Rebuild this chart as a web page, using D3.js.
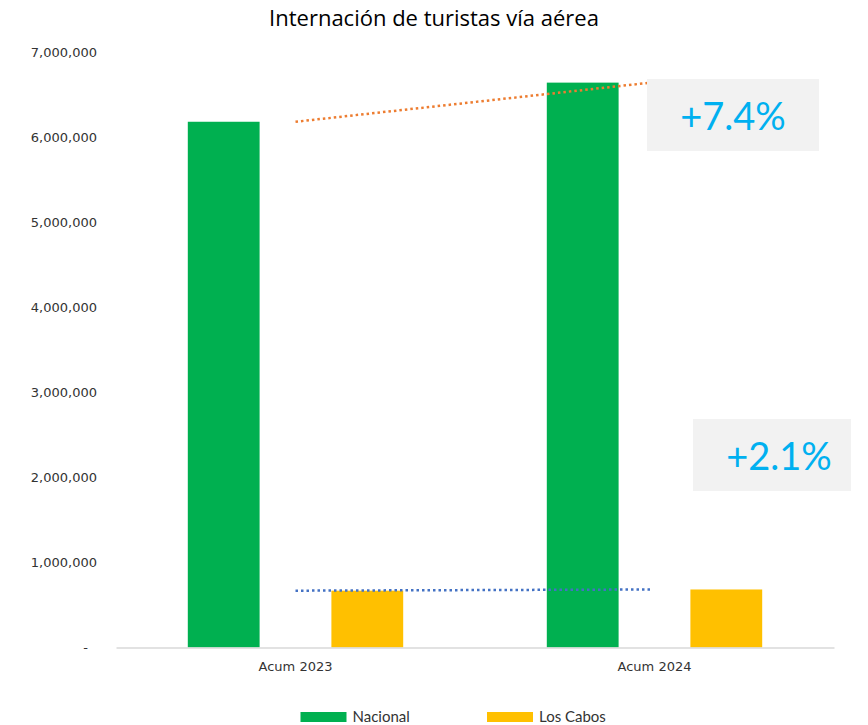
<!DOCTYPE html>
<html lang="es">
<head>
    <meta charset="UTF-8">
    <title>Internación de turistas vía aérea</title>
    <script src="https://d3js.org/d3.v7.min.js"></script>
    <style>
        body { margin: 0; background: #fff; }
    </style>
</head>
<body>
    <div id="chart"></div>
    <script>
        // data
        const categories = ["Acum 2023", "Acum 2024"];
        const seriesNames = ["Nacional", "Los Cabos"];
        const nacional = [6180000, 6640000];
        const losCabos = [668000, 682000];
        const yTicks = [0, 1000000, 2000000, 3000000, 4000000, 5000000, 6000000, 7000000];
        const growthLabels = ["+7.4%", "+2.1%"];

        const colors = { "Nacional": "#00b050", "Los Cabos": "#ffc000" };
        const trendColors = { "Nacional": "#ed7d31", "Los Cabos": "#4472c4" };

        const width = 868, height = 725;
        const margin = { top: 52, right: 34, bottom: 77.5, left: 116 };

        const svg = d3.select("#chart").append("svg")
            .attr("width", width)
            .attr("height", height);

        const rows = categories.map((c, i) => ({ category: c, "Nacional": nacional[i], "Los Cabos": losCabos[i] }));

        const x0 = d3.scaleBand()
            .domain(categories)
            .range([margin.left, width - margin.right])
            .padding(0);

        const x1 = d3.scaleBand()
            .domain(seriesNames)
            .range([0, x0.bandwidth()])
            .paddingInner(0.5)
            .paddingOuter(0.5);

        const y = d3.scaleLinear()
            .domain([0, 7000000])
            .range([height - margin.bottom, margin.top]);

        // title
        svg.append("text")
            .attr("x", 434)
            .attr("y", 26)
            .attr("text-anchor", "middle")
            .style("font-family", "'Open Sans', sans-serif")
            .style("font-size", "22px")
            .style("fill", "#000")
            .text("Internación de turistas vía aérea");

        // y axis labels (no line)
        const fmt = d3.format(",");
        svg.append("g")
            .selectAll("text")
            .data(yTicks)
            .join("text")
            .attr("x", d => d === 0 ? 88 : 97)
            .attr("y", d => y(d))
            .attr("dy", "0.35em")
            .attr("text-anchor", "end")
            .style("font-family", "DejaVu Sans, sans-serif")
            .style("font-size", "13px")
            .style("fill", "#333")
            .text(d => d === 0 ? "-" : fmt(d));

        // bars
        const groups = svg.append("g")
            .selectAll("g")
            .data(rows)
            .join("g")
            .attr("transform", d => `translate(${x0(d.category)},0)`);

        groups.selectAll("rect")
            .data(d => seriesNames.map(s => ({ key: s, value: d[s] })))
            .join("rect")
            .attr("x", d => x1(d.key))
            .attr("y", d => y(d.value))
            .attr("width", x1.bandwidth())
            .attr("height", d => y(0) - y(d.value))
            .attr("fill", d => colors[d.key]);

        // x axis line
        const xAxis = d3.axisBottom(x0).tickSize(0).tickPadding(14);
        const gx = svg.append("g")
            .attr("transform", `translate(0,${y(0)})`)
            .call(xAxis);
        gx.select(".domain").attr("stroke", "#d9d9d9").attr("stroke-width", 1.5);
        gx.selectAll("text")
            .style("font-family", "DejaVu Sans, sans-serif")
            .style("font-size", "13px")
            .style("fill", "#333");

        // dotted trend lines between category centers
        const trendData = [
            { key: "Nacional", values: nacional },
            { key: "Los Cabos", values: losCabos }
        ];
        const line = d3.line()
            .x((d, i) => x0(categories[i]) + x0.bandwidth() / 2 - i * 4)
            .y(d => y(d));

        svg.append("g")
            .selectAll("path")
            .data(trendData)
            .join("path")
            .attr("d", d => line(d.values))
            .attr("fill", "none")
            .attr("stroke", d => trendColors[d.key])
            .attr("stroke-width", 2.5)
            .attr("stroke-dasharray", "2.5 3");

        // growth boxes
        const boxes = [
            { label: growthLabels[0], x: 647, y: 79, w: 172, h: 72, tx: 733, ty: 129.5 },
            { label: growthLabels[1], x: 693, y: 419, w: 158, h: 72, tx: 779, ty: 469.5 }
        ];
        const bg = svg.append("g")
            .selectAll("g")
            .data(boxes)
            .join("g");
        bg.append("rect")
            .attr("x", d => d.x)
            .attr("y", d => d.y)
            .attr("width", d => d.w)
            .attr("height", d => d.h)
            .attr("fill", "#f2f2f2");
        bg.append("text")
            .attr("x", d => d.tx)
            .attr("y", d => d.ty)
            .attr("text-anchor", "middle")
            .style("font-family", "Lato, sans-serif")
            .style("font-size", "38px")
            .style("fill", "#00b0f0")
            .text(d => d.label);

        // legend
        const legendX = [300.5, 487];
        const legend = svg.append("g")
            .selectAll("g")
            .data(seriesNames)
            .join("g")
            .attr("transform", (d, i) => `translate(${legendX[i]},712)`);
        legend.append("rect")
            .attr("width", 46)
            .attr("height", 10)
            .attr("fill", d => colors[d]);
        legend.append("text")
            .attr("x", 52)
            .attr("y", 5)
            .attr("dy", "0.35em")
            .style("font-family", "Lato, sans-serif")
            .style("font-size", "15px")
            .style("fill", "#333")
            .text(d => d);
    </script>
</body>
</html>
